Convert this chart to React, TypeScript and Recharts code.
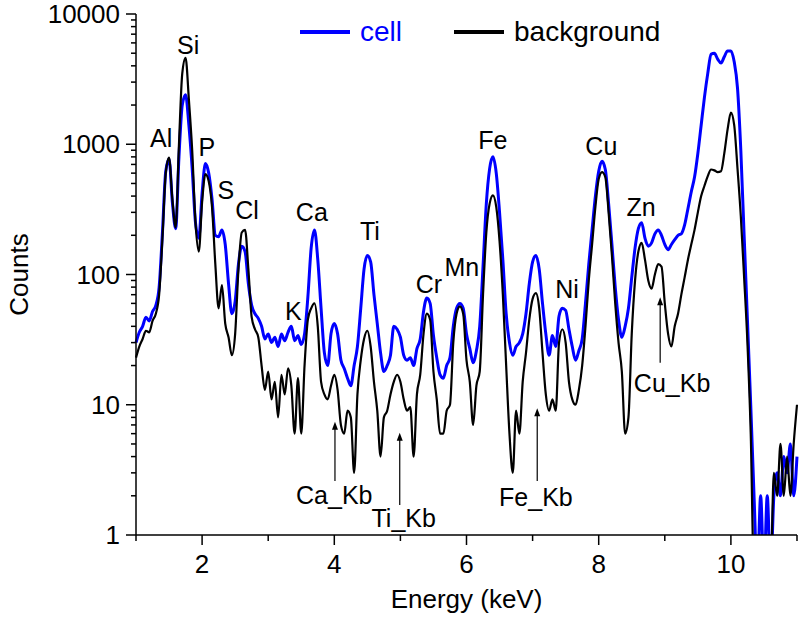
import { LineChart, Line, XAxis, YAxis, Legend, ReferenceDot, ReferenceLine } from 'recharts';

// spectrum channels: 1.00 .. 11.00 keV, 0.05 keV apart
const START_KEV = 1;
const STEP_KEV = 0.05;

const cell = [
  30, 36, 40, 47, 44, 52, 58, 80, 210, 620,
  770, 360, 225, 800, 2000, 2400, 1400, 650, 250, 190,
  420, 710, 600, 380, 200, 195, 220, 170, 85, 50,
  62, 120, 165, 150, 85, 58, 50, 46, 40, 32,
  35, 30, 33, 28, 35, 31, 36, 40, 31, 34,
  29, 35, 67, 160, 220, 130, 55, 25, 20, 35,
  42, 35, 22, 19, 16, 14, 20, 28, 55, 110,
  140, 125, 70, 42, 25, 18, 20, 24, 40, 38,
  33, 24, 22, 23, 20, 27, 32, 52, 66, 60,
  34, 23, 17, 16, 20, 23, 40, 55, 60, 55,
  35, 27, 21, 26, 40, 115, 350, 650, 800, 600,
  300, 130, 50, 30, 24, 28, 30, 35, 50, 85,
  125, 140, 110, 60, 35, 24, 34, 28, 48, 55,
  53, 38, 28, 22, 26, 32, 60, 120, 220, 400,
  620, 740, 640, 350, 170, 80, 45, 33, 40, 55,
  95, 160, 225, 250, 190, 165, 175, 205, 220, 200,
  170, 155, 170, 185, 200, 205, 240, 320, 430, 560,
  850, 1400, 2300, 3500, 4900, 5000, 4500, 4200, 4700, 5200,
  5200, 4300, 2700, 900, 200, 45, 10, 2, 0.5, 2,
  0.5, 2, 0.5, 2, 3, 2, 4, 3, 5, 2,
  4,
];

const background = [
  23, 28, 32, 37, 36, 44, 50, 70, 190, 600,
  790, 380, 230, 1000, 3500, 4600, 2200, 900, 250, 150,
  360, 590, 520, 330, 120, 55, 83, 42, 33, 24,
  35, 110, 210, 220, 110, 47, 38, 33, 20, 13,
  18, 11, 15, 8, 17, 12, 19, 14, 6, 16,
  6, 20, 45, 55, 60, 40, 15, 12, 11, 14,
  17, 13, 7, 6, 9, 8, 3, 12, 22, 32,
  37, 28, 15, 9, 4, 8, 9, 12, 15, 17,
  15, 11, 9, 9.6, 4, 12, 17, 35, 50, 45,
  18, 11, 6, 6, 9, 10, 30, 50, 57, 50,
  22, 15, 7, 14, 18, 70, 210, 350, 405, 330,
  180, 70, 20, 6, 3, 9, 6, 15, 25, 45,
  65, 72, 55, 25, 12, 9, 11, 9, 30, 38,
  30, 15, 11, 10, 13, 20, 40, 90, 170, 330,
  540, 610, 560, 300, 140, 60, 30, 18, 6, 8,
  35, 90, 150, 175, 130, 90, 78, 100, 120, 115,
  60, 35, 28, 40, 50, 70, 95, 130, 170, 220,
  300, 400, 480, 570, 640, 630, 610, 620, 850, 1300,
  1750, 1400, 650, 280, 95, 30, 6, 0.5, 0.5, 0.5,
  0.5, 0.5, 0.5, 3, 2, 5, 2, 4, 2, 5,
  10,
];

const xTicks = [1, 2, 3, 4, 5, 6, 7, 8, 9, 10, 11];
const yTicks = [
  1, 2, 3, 4, 5, 6, 7, 8, 9,
  10, 20, 30, 40, 50, 60, 70, 80, 90,
  100, 200, 300, 400, 500, 600, 700, 800, 900,
  1000, 2000, 3000, 4000, 5000, 6000, 7000, 8000, 9000,
  10000,
];

const peakNames = ['Al', 'Si', 'P', 'S', 'Cl', 'K', 'Ca', 'Ti', 'Cr', 'Mn', 'Fe', 'Ni', 'Cu', 'Zn'];
const peakLabelKeV = [1.38, 1.79, 2.07, 2.36, 2.68, 3.38, 3.66, 4.54, 5.43, 5.93, 6.4, 7.52, 8.04, 8.64];
const peakLabelCounts = [1117, 5780, 953, 445, 313, 52, 302, 216, 85, 114, 1078, 77, 970, 330];

const kbNames = ['Ca_Kb', 'Ti_Kb', 'Fe_Kb', 'Cu_Kb'];
const kbKeV = [4.01, 4.99, 7.07, 8.93];
const kbTipCounts = [7.4, 6.1, 9.4, 67];
const kbTailCounts = [2.6, 1.7, 2.6, 21];
const kbTextKeV = [4.0, 5.05, 7.05, 9.11];
const kbTextCounts = [2.03, 1.35, 1.96, 14.7];

const data = cell.map((c, i) => ({
  e: +(START_KEV + i * STEP_KEV).toFixed(2),
  cell: c,
  background: background[i],
}));

const FONT = '"Liberation Sans", Arial, sans-serif';

const XTick = (props: any) => {
  const { x, y, payload } = props;
  const major = payload.value % 2 === 0;
  return (
    <g>
      <line x1={x} y1={y} x2={x} y2={y + (major ? 10 : 6)} stroke="#000" strokeWidth={1.5} />
      {major && (
        <text x={x} y={y + 38} textAnchor="middle" fontSize={26} fill="#000">
          {payload.value}
        </text>
      )}
    </g>
  );
};

const YTick = (props: any) => {
  const { x, y, payload } = props;
  const lg = Math.log10(payload.value);
  const major = Math.abs(lg - Math.round(lg)) < 1e-9;
  return (
    <g>
      <line x1={x} y1={y} x2={x - (major ? 10 : 5)} y2={y} stroke="#000" strokeWidth={1.5} />
      {major && (
        <text x={x - 16} y={y + 9} textAnchor="end" fontSize={26} fill="#000">
          {payload.value}
        </text>
      )}
    </g>
  );
};

const renderLegend = () => (
  <div style={{ display: 'flex', alignItems: 'center', fontSize: 28, fontFamily: FONT, lineHeight: '36px' }}>
    <div style={{ width: 50, height: 4, background: '#0000ff', marginRight: 10 }} />
    <span style={{ color: '#0000ff', marginRight: 52 }}>cell</span>
    <div style={{ width: 50, height: 4, background: '#000', marginRight: 10 }} />
    <span style={{ color: '#000' }}>background</span>
  </div>
);

const Arrow = (props: any) => {
  const { x1, y1, x2, y2 } = props;
  return (
    <g>
      <line x1={x1} y1={y1} x2={x2} y2={y2 + 6} stroke="#000" strokeWidth={1.2} />
      <polygon points={`${x2},${y2} ${x2 - 3},${y2 + 8} ${x2 + 3},${y2 + 8}`} fill="#000" />
    </g>
  );
};

export default function App() {
  return (
    <div style={{ position: 'absolute', left: 0, top: 0, width: 800, height: 617, background: '#fff', fontFamily: FONT }}>
      <LineChart width={800} height={617} data={data} margin={{ top: 14, right: 3, bottom: 0, left: 0 }}>
        <XAxis
          dataKey="e"
          type="number"
          domain={[1, 11]}
          ticks={xTicks}
          interval={0}
          height={82}
          tickSize={0}
          tickMargin={0}
          tickLine={false}
          tick={<XTick />}
          axisLine={{ stroke: '#000', strokeWidth: 1.5 }}
          label={{ value: 'Energy (keV)', position: 'insideBottom', offset: 9, fontSize: 26, fill: '#000' }}
        />
        <YAxis
          scale="log"
          domain={[1, 10000]}
          allowDataOverflow
          ticks={yTicks}
          interval={0}
          width={136}
          tickSize={0}
          tickMargin={0}
          tickLine={false}
          tick={<YTick />}
          axisLine={{ stroke: '#000', strokeWidth: 1.5 }}
          label={{
            content: (p: any) => {
              const vb = p.viewBox;
              return (
                <text
                  transform={`translate(${vb.x + 28}, ${vb.y + vb.height / 2}) rotate(-90)`}
                  textAnchor="middle"
                  fontSize={26}
                  fill="#000"
                >
                  Counts
                </text>
              );
            },
          }}
        />
        <Legend
          layout="vertical"
          align="center"
          verticalAlign="middle"
          content={renderLegend}
          wrapperStyle={{ position: 'absolute', top: 14, left: 300, width: 400, height: 36 }}
        />
        <Line
          type="monotone"
          dataKey="cell"
          name="cell"
          stroke="#0000ff"
          strokeWidth={3}
          dot={false}
          isAnimationActive={false}
        />
        <Line
          type="monotone"
          dataKey="background"
          name="background"
          stroke="#000"
          strokeWidth={2.2}
          dot={false}
          isAnimationActive={false}
        />
        {peakNames.map((name, i) => (
          <ReferenceDot
            key={name}
            x={peakLabelKeV[i]}
            y={peakLabelCounts[i]}
            r={0}
            shape={(p: any) => (
              <text x={p.cx} y={p.cy} dy="0.36em" textAnchor="middle" fontSize={25} fill="#000">
                {name}
              </text>
            )}
          />
        ))}
        {kbNames.map((name, i) => (
          <ReferenceLine
            key={name + '-arrow'}
            segment={[
              { x: kbKeV[i], y: kbTailCounts[i] },
              { x: kbKeV[i], y: kbTipCounts[i] },
            ]}
            shape={<Arrow />}
          />
        ))}
        {kbNames.map((name, i) => (
          <ReferenceDot
            key={name}
            x={kbTextKeV[i]}
            y={kbTextCounts[i]}
            r={0}
            shape={(p: any) => (
              <text x={p.cx} y={p.cy} dy="0.36em" textAnchor="middle" fontSize={25} fill="#000">
                {name}
              </text>
            )}
          />
        ))}
      </LineChart>
    </div>
  );
}
